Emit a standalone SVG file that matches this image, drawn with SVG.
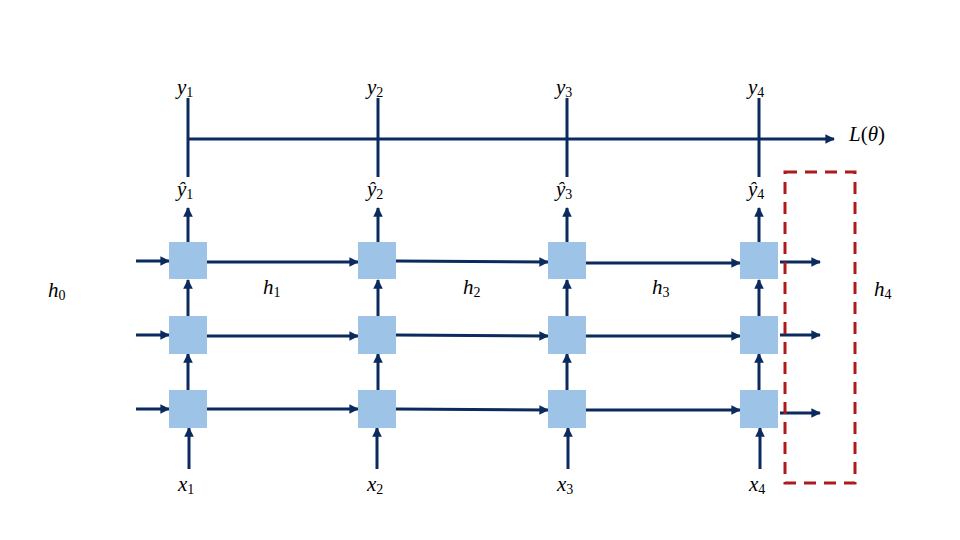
<svg xmlns="http://www.w3.org/2000/svg" width="960" height="540" viewBox="0 0 960 540">
<style>
.ln{stroke:#0B2A5E;stroke-width:3;fill:none}
.ar{stroke:#0B2A5E;stroke-width:3;fill:none;marker-end:url(#ah)}
.bx{fill:#9DC3E6}
.t{font-family:"Liberation Serif","DejaVu Serif",serif;font-style:italic;font-size:21px;fill:#000}
.s{font-size:14px;font-style:normal}
.u{font-style:normal}
</style>
<defs>
<marker id="ah" viewBox="0 0 10 10" refX="9" refY="5" markerWidth="3.8" markerHeight="3.2" orient="auto" markerUnits="strokeWidth">
<path d="M0,0 L10,5 L0,10 Z" fill="#0B2A5E"/>
</marker>
</defs>
<rect width="960" height="540" fill="#fff"/>
<g id="connectors">
<line class="ln" x1="188" y1="98" x2="188" y2="177"/>
<line class="ln" x1="378" y1="98" x2="378" y2="177"/>
<line class="ln" x1="567" y1="98" x2="567" y2="177"/>
<line class="ln" x1="759" y1="98" x2="759" y2="177"/>
<line class="ar" x1="188" y1="139" x2="834" y2="139"/>
<line class="ar" x1="188" y1="242" x2="188" y2="208"/>
<line class="ar" x1="378" y1="242" x2="378" y2="208"/>
<line class="ar" x1="567" y1="242" x2="567" y2="208"/>
<line class="ar" x1="759" y1="242" x2="759" y2="208"/>
<line class="ar" x1="136" y1="261" x2="169" y2="261"/>
<line class="ar" x1="136" y1="335" x2="169" y2="335"/>
<line class="ar" x1="136" y1="409" x2="169" y2="409"/>
<line class="ar" x1="207" y1="262" x2="358" y2="262"/>
<line class="ar" x1="207" y1="336" x2="358" y2="336"/>
<line class="ar" x1="207" y1="409" x2="358" y2="409"/>
<line class="ar" x1="396" y1="261" x2="548" y2="262"/>
<line class="ar" x1="396" y1="335" x2="548" y2="336"/>
<line class="ar" x1="396" y1="409" x2="548" y2="410"/>
<line class="ar" x1="586" y1="263" x2="740" y2="263"/>
<line class="ar" x1="586" y1="336" x2="740" y2="336"/>
<line class="ar" x1="586" y1="410" x2="740" y2="410"/>
<line class="ar" x1="780" y1="262" x2="820" y2="262"/>
<line class="ar" x1="780" y1="335" x2="820" y2="335"/>
<line class="ar" x1="780" y1="413" x2="820" y2="413"/>
<line class="ar" x1="188" y1="390" x2="188" y2="354"/>
<line class="ar" x1="188" y1="316" x2="188" y2="280"/>
<line class="ar" x1="378" y1="390" x2="378" y2="354"/>
<line class="ar" x1="378" y1="316" x2="378" y2="280"/>
<line class="ar" x1="567" y1="390" x2="567" y2="354"/>
<line class="ar" x1="567" y1="316" x2="567" y2="280"/>
<line class="ar" x1="759" y1="390" x2="759" y2="354"/>
<line class="ar" x1="759" y1="316" x2="759" y2="280"/>
<line class="ar" x1="189" y1="469" x2="189" y2="428"/>
<line class="ar" x1="377" y1="469" x2="377" y2="428"/>
<line class="ar" x1="568" y1="469" x2="568" y2="428"/>
<line class="ar" x1="760" y1="469" x2="760" y2="428"/>
</g>
<g id="cells">
<rect id="c11" class="bx" x="169" y="242" width="38" height="37"/>
<rect id="c12" class="bx" x="358" y="242" width="38" height="37"/>
<rect id="c13" class="bx" x="548" y="242" width="38" height="37"/>
<rect id="c14" class="bx" x="740" y="242" width="38" height="37"/>
<rect id="c21" class="bx" x="169" y="316" width="38" height="38"/>
<rect id="c22" class="bx" x="358" y="316" width="38" height="38"/>
<rect id="c23" class="bx" x="548" y="316" width="38" height="38"/>
<rect id="c24" class="bx" x="740" y="316" width="38" height="38"/>
<rect id="c31" class="bx" x="169" y="390" width="38" height="38"/>
<rect id="c32" class="bx" x="358" y="390" width="38" height="38"/>
<rect id="c33" class="bx" x="548" y="390" width="38" height="38"/>
<rect id="c34" class="bx" x="740" y="390" width="38" height="38"/>
</g>
<g id="highlight">
<rect x="785" y="172" width="70" height="311" fill="none" stroke="#AD1A1A" stroke-width="3" stroke-dasharray="12,8"/>
</g>
<g id="labels">
<text class="t" x="177" y="94">y<tspan class="s" dy="3">1</tspan></text>
<text class="t" x="367" y="94">y<tspan class="s" dy="3">2</tspan></text>
<text class="t" x="556" y="94">y<tspan class="s" dy="3">3</tspan></text>
<text class="t" x="748" y="94">y<tspan class="s" dy="3">4</tspan></text>
<text class="t" x="177" y="196">ŷ<tspan class="s" dy="3">1</tspan></text>
<text class="t" x="367" y="196">ŷ<tspan class="s" dy="3">2</tspan></text>
<text class="t" x="556" y="196">ŷ<tspan class="s" dy="3">3</tspan></text>
<text class="t" x="748" y="196">ŷ<tspan class="s" dy="3">4</tspan></text>
<text class="t" x="178" y="491">x<tspan class="s" dy="3">1</tspan></text>
<text class="t" x="367" y="491">x<tspan class="s" dy="3">2</tspan></text>
<text class="t" x="557" y="491">x<tspan class="s" dy="3">3</tspan></text>
<text class="t" x="749" y="491">x<tspan class="s" dy="3">4</tspan></text>
<text class="t" x="48" y="297">h<tspan class="s" dy="3">0</tspan></text>
<text class="t" x="263" y="294">h<tspan class="s" dy="3">1</tspan></text>
<text class="t" x="463" y="294">h<tspan class="s" dy="3">2</tspan></text>
<text class="t" x="652" y="294">h<tspan class="s" dy="3">3</tspan></text>
<text class="t" x="874" y="296">h<tspan class="s" dy="3">4</tspan></text>
<text class="t" x="849" y="141">L<tspan class="u">(</tspan>θ<tspan class="u">)</tspan></text>
</g>
</svg>
